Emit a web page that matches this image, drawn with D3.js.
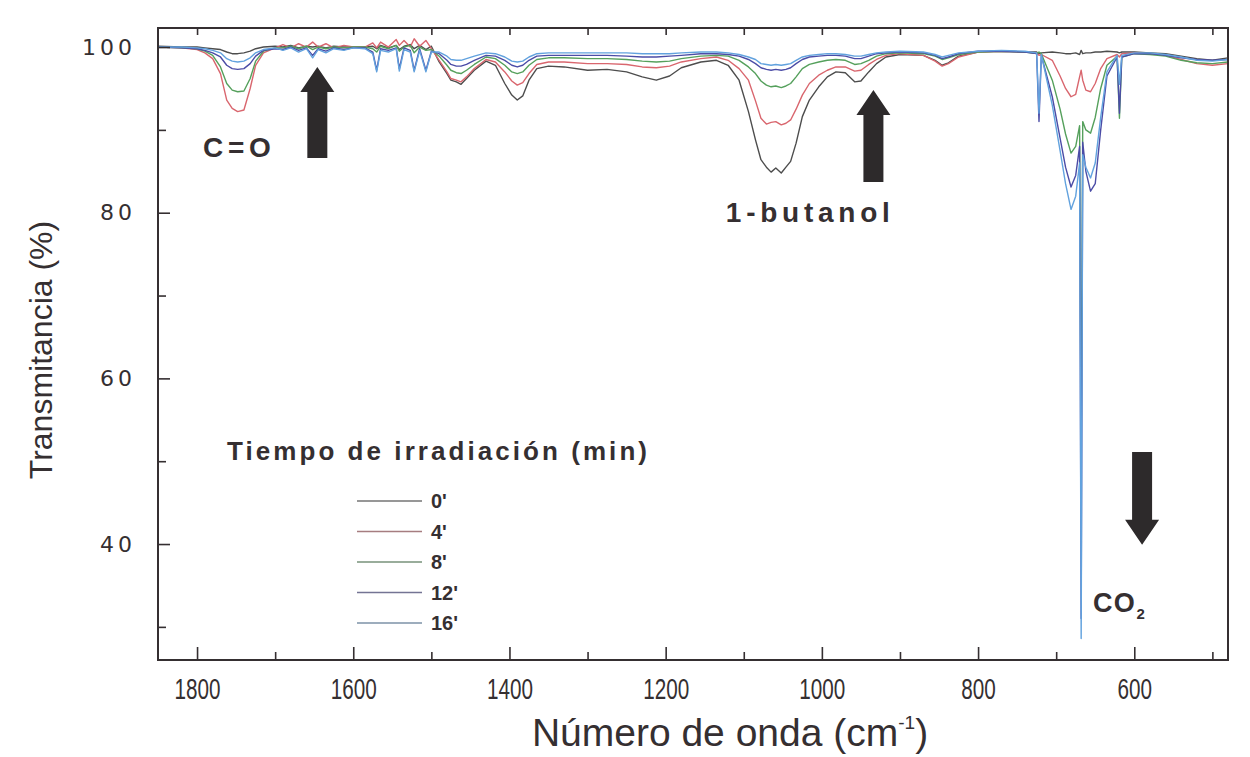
<!DOCTYPE html>
<html>
<head>
<meta charset="utf-8">
<script src="https://cdn.jsdelivr.net/npm/d3@7"></script>
<style>
  body { margin: 0; background: #fff; }
  svg { display: block; }
</style>
</head>
<body>
<svg id="chart"></svg>
<script>
// wavenumber grid (cm-1), shared by all spectra
var wavenumber = [
  1850, 1820, 1800, 1790, 1780, 1770, 1762, 1755, 1748, 1740, 1732, 1725, 1715, 1700,
  1690, 1680, 1670, 1660, 1652, 1645, 1635, 1625, 1612, 1600, 1585, 1575, 1570, 1565, 1555, 1545, 1541, 1535, 1527, 1522, 1515, 1507, 1500,
  1490, 1480, 1475, 1468, 1462, 1455, 1445, 1430, 1418, 1406, 1397, 1390, 1383, 1375, 1365, 1350, 1330, 1300, 1275, 1250, 1230, 1212, 1195, 1180, 1155, 1135,
  1120, 1106, 1094, 1085, 1078, 1071, 1065, 1059, 1052, 1046, 1040, 1033, 1025, 1016, 1004, 993, 982, 970, 958, 950, 940, 930, 918, 900,
  870, 855, 846, 838, 825, 800, 770, 740,
  725, 722, 719, 705, 695, 688, 681, 675, 670, 668, 666, 662, 656, 650, 643, 635, 622, 619, 616, 600,
  580, 560, 540, 520, 500, 480
];

// transmittance (%) for each irradiation time
var t0 = [
  100.1, 100.0, 100.0, 99.9, 99.8, 99.7, 99.4, 99.2, 99.2, 99.3, 99.5, 99.8, 100.0, 100.1,
  100.0, 100.2, 99.9, 100.1, 100.0, 100.1, 99.9, 100.1, 100.0, 100.0, 100.0, 100.1, 99.8, 100.2, 99.9, 100.2, 99.7, 100.1, 100.3, 99.8, 100.2, 99.7, 100.1,
  98.2, 96.8, 96.0, 95.8, 95.5, 96.2, 97.2, 98.3, 97.8, 95.6, 94.2, 93.6, 94.1, 96.0, 97.4, 97.7, 97.6, 97.2, 97.3, 97.0, 96.4, 96.0, 96.5, 97.5, 98.2, 98.4,
  97.8, 96.0, 92.2, 88.8, 86.4, 85.5, 84.9, 85.4, 84.8, 85.5, 86.2, 88.4, 91.6, 93.6, 95.2, 96.4, 97.0, 96.9, 95.8, 95.9, 97.0, 98.0, 98.8, 99.1,
  99.0, 98.4, 97.8, 98.1, 98.9, 99.4, 99.5, 99.4,
  99.4, 99.2, 99.3, 99.4, 99.3, 99.2, 99.2, 99.3, 99.1, 99.6, 99.2, 99.3, 99.3, 99.4, 99.4, 99.5, 99.4, 99.3, 99.4, 99.4,
  99.3, 99.2, 98.9, 98.6, 98.4, 98.7
];
var t4 = [
  100.0, 99.9, 99.7, 99.3, 98.6, 96.8, 93.6, 92.6, 92.2, 92.4, 95.0, 97.8, 99.3, 99.9,
  100.3, 99.9, 100.4, 100.0, 100.6, 100.0, 100.4, 99.9, 100.2, 100.0, 100.0, 100.5, 99.9, 100.6, 100.0, 100.9, 100.2, 100.8, 100.0, 101.0, 100.1, 100.8, 99.8,
  98.4, 97.0, 96.2, 96.0, 95.8, 96.4, 97.4, 98.5, 98.2, 97.0, 95.9, 95.4, 95.7, 96.8, 97.9, 98.2, 98.2, 98.0, 98.0, 97.9, 97.6, 97.5, 97.7, 98.2, 98.6, 98.8,
  98.4, 97.4, 96.0, 93.5, 91.4, 90.7, 90.9, 91.0, 90.6, 90.8, 91.2, 92.5, 94.2, 95.6, 96.6, 97.2, 97.6, 97.6, 97.1, 97.2, 97.9, 98.5, 99.0, 99.2,
  99.0, 98.3, 97.7, 98.0, 98.8, 99.4, 99.5, 99.4,
  99.3, 99.0, 99.1, 98.4, 96.5, 95.0, 94.0, 94.3, 96.4, 97.2, 96.0, 94.8, 94.6, 95.6, 97.4, 98.6, 99.1, 98.8, 99.2, 99.3,
  99.2, 99.0, 98.5, 98.0, 97.8, 98.0
];
var t8 = [
  100.0, 99.9, 99.8, 99.5, 99.0, 97.6, 95.6, 94.8, 94.6, 94.7, 96.2, 98.3, 99.5, 99.9,
  99.9, 100.1, 99.8, 100.1, 99.7, 100.0, 99.8, 100.0, 99.9, 100.0, 100.0, 99.8, 99.4, 100.1, 99.8, 100.2, 99.5, 100.0, 100.2, 99.3, 100.0, 99.6, 99.7,
  98.9, 97.8, 97.2, 96.9, 96.8, 97.2, 97.9, 98.8, 98.6, 97.8, 97.0, 96.8, 97.0, 97.8, 98.5, 98.7, 98.7, 98.6, 98.6, 98.5, 98.3, 98.2, 98.3, 98.6, 98.9, 99.0,
  98.9, 98.4, 97.6, 96.8, 95.9, 95.4, 95.2, 95.3, 95.1, 95.3, 95.6, 96.4, 97.4, 97.9, 98.2, 98.4, 98.5, 98.4, 97.9, 98.0, 98.4, 98.9, 99.2, 99.3,
  99.2, 98.9, 98.5, 98.7, 99.1, 99.4, 99.5, 99.4,
  99.2, 99.4, 99.2, 96.0, 92.5, 89.5, 87.2, 88.0, 90.5, 50.0, 91.0, 90.0, 89.6, 91.5, 95.0, 97.8, 98.9, 91.4, 98.8, 99.2,
  99.1, 98.9, 98.4, 98.1, 98.0, 98.2
];
var t12 = [
  100.0, 99.9, 99.8, 99.6, 99.3, 98.8, 97.8, 97.4, 97.3, 97.4, 98.0, 98.9, 99.6, 99.8,
  99.7, 100.0, 99.6, 99.9, 99.0, 99.8, 99.5, 99.9, 99.7, 99.9, 99.9, 99.4, 97.2, 99.8, 99.6, 99.9, 97.4, 99.9, 99.6, 97.2, 99.8, 97.2, 99.5,
  99.2, 98.4, 97.9, 97.7, 97.7, 97.9, 98.4, 99.0, 98.9, 98.4, 97.8, 97.6, 97.8, 98.4, 98.9, 99.0, 99.0, 99.0, 99.0, 98.9, 98.8, 98.8, 98.9, 99.0, 99.2, 99.2,
  99.1, 98.9, 98.5, 98.0, 97.5, 97.3, 97.2, 97.3, 97.2, 97.3, 97.5, 98.0, 98.5, 98.8, 98.9, 99.0, 99.0, 98.9, 98.6, 98.6, 98.9, 99.2, 99.3, 99.4,
  99.3, 99.0, 98.6, 98.8, 99.2, 99.5, 99.5, 99.4,
  99.2, 91.0, 99.0, 94.0, 89.0, 85.5, 83.1, 84.5, 88.0, 31.0, 88.5, 85.0, 82.6, 83.5, 90.0, 96.5, 98.8, 92.0, 98.8, 99.2,
  99.2, 99.0, 98.7, 98.5, 98.4, 98.5
];
var t16 = [
  100.0, 100.0, 99.9, 99.8, 99.6, 99.3, 98.6, 98.3, 98.2, 98.3, 98.7, 99.3, 99.7, 99.9,
  99.6, 99.9, 99.4, 99.8, 98.7, 99.7, 99.3, 99.8, 99.6, 99.9, 99.8, 99.2, 97.0, 99.6, 99.4, 99.8, 97.1, 99.7, 99.4, 97.0, 99.6, 97.0, 99.4,
  99.4, 98.9, 98.5, 98.4, 98.4, 98.6, 98.9, 99.3, 99.2, 98.8, 98.3, 98.2, 98.3, 98.8, 99.2, 99.3, 99.3, 99.3, 99.3, 99.3, 99.2, 99.2, 99.2, 99.3, 99.4, 99.4,
  99.3, 99.1, 98.8, 98.5, 98.0, 97.9, 97.8, 97.9, 97.8, 97.9, 98.0, 98.4, 98.8, 99.0, 99.1, 99.2, 99.2, 99.1, 98.9, 98.9, 99.1, 99.3, 99.4, 99.5,
  99.4, 99.1, 98.8, 99.0, 99.3, 99.5, 99.6, 99.5,
  99.3, 92.0, 99.1, 93.0, 87.5, 83.5, 80.4, 82.0, 86.0, 28.6, 87.0, 85.5, 84.2, 86.0, 91.5, 97.0, 99.0, 95.5, 99.0, 99.3,
  99.3, 99.1, 98.8, 98.4, 98.3, 98.5
];

var seriesNames = ["0'", "4'", "8'", "12'", "16'"];
var seriesValues = [t0, t4, t8, t12, t16];
var seriesColors = ["#4d4d4d", "#d9666e", "#55a05c", "#4b4ca6", "#62a2de"];

var xMajorTicks = [1800, 1600, 1400, 1200, 1000, 800, 600];
var xMinorTicks = [1700, 1500, 1300, 1100, 900, 700, 500];
var yMajorTicks = [40, 60, 80, 100];
var yMinorTicks = [30, 50, 70, 90];

// annotations, in data units
var bandLabels = [
  { text: "C=O", wn: 1749, t: 86.7, len: 68 },
  { text: "1-butanol", wn: 1018, t: 78.9, len: 164 }
];
var arrows = [
  { wn: 1646, tail: 86.6, tip: 97.6 },
  { wn: 934, tail: 83.7, tip: 94.8 },
  { wn: 590, tail: 51.1, tip: 39.9 }
];
var co2Label = { wn: 653, t: 31.8 };

var margin = { top: 28, right: 22, bottom: 97, left: 158 },
  width = 1250 - margin.left - margin.right,
  height = 757 - margin.top - margin.bottom;

var svg = d3.select("#chart")
  .attr("width", 1250)
  .attr("height", 757)
  .append("g")
  .attr("transform", "translate(" + margin.left + "," + margin.top + ")");

var x = d3.scaleLinear().domain([1850, 480]).range([0, width]);
var y = d3.scaleLinear().domain([26, 102.3]).range([height, 0]);

var ink = "#352f31";

svg.append("clipPath").attr("id", "plotclip")
  .append("rect").attr("width", width).attr("height", height);

// spectra
var line = d3.line()
  .x(function (d, i) { return x(wavenumber[i]); })
  .y(function (d) { return y(d); });

svg.append("g")
  .attr("clip-path", "url(#plotclip)")
  .selectAll("path")
  .data(seriesValues)
  .enter().append("path")
  .attr("fill", "none")
  .attr("stroke", function (d, i) { return seriesColors[i]; })
  .attr("stroke-width", 1.4)
  .attr("stroke-linejoin", "round")
  .attr("d", line);

// axes
function styleAxis(g) {
  g.select(".domain").remove();
  g.selectAll(".tick line").attr("stroke", ink).attr("stroke-width", 1.6);
}

svg.append("g")
  .attr("transform", "translate(0," + height + ")")
  .call(d3.axisBottom(x).tickValues(xMajorTicks).tickSize(-13).tickPadding(18).tickFormat(d3.format("d")))
  .call(styleAxis)
  .selectAll("text")
  .attr("fill", ink)
  .style("font-family", "'Liberation Sans', Arial, sans-serif")
  .style("font-size", "29px")
  .attr("textLength", function (d) { return String(d).length * 11.5; })
  .attr("lengthAdjust", "spacingAndGlyphs");

svg.append("g")
  .attr("transform", "translate(0," + height + ")")
  .call(d3.axisBottom(x).tickValues(xMinorTicks).tickSize(-8).tickFormat(""))
  .call(styleAxis);

svg.append("g")
  .call(d3.axisTop(x).tickValues(xMajorTicks.concat(xMinorTicks)).tickSize(-7).tickFormat(""))
  .call(styleAxis);

svg.append("g")
  .call(d3.axisLeft(y).tickValues(yMajorTicks).tickSize(-12).tickPadding(22))
  .call(styleAxis)
  .selectAll("text")
  .attr("fill", ink)
  .style("font-family", "'DejaVu Sans', Arial, sans-serif")
  .style("font-size", "22px")
  .style("letter-spacing", "4px");

svg.append("g")
  .call(d3.axisLeft(y).tickValues(yMinorTicks).tickSize(-8).tickFormat(""))
  .call(styleAxis);

// frame
svg.append("rect")
  .attr("width", width)
  .attr("height", height)
  .attr("fill", "none")
  .attr("stroke", ink)
  .attr("stroke-width", 2);

// axis titles
var xTitle = svg.append("text")
  .attr("x", width / 2 + 37)
  .attr("y", height + 86)
  .attr("text-anchor", "middle")
  .attr("fill", ink)
  .style("font-family", "'Liberation Sans', Arial, sans-serif")
  .style("font-size", "39px");
xTitle.append("tspan").text("Número de onda (cm");
xTitle.append("tspan").attr("dy", -17).style("font-size", "19px").text("-1");
xTitle.append("tspan").attr("dy", 17).text(")");

svg.append("text")
  .attr("transform", "translate(" + (-106) + "," + (height / 2 + 6) + ") rotate(-90)")
  .attr("text-anchor", "middle")
  .attr("fill", ink)
  .style("font-family", "'Liberation Sans', Arial, sans-serif")
  .style("font-size", "32px")
  .text("Transmitancia (%)");

// arrows
function arrowPath(d) {
  var cx = x(d.wn), yTail = y(d.tail), yTip = y(d.tip);
  var dir = yTip < yTail ? 1 : -1;
  var headLen = 25, shaft = 10, head = 17;
  var yBase = yTip + dir * headLen;
  return "M" + (cx - shaft) + "," + yTail +
    "L" + (cx - shaft) + "," + yBase +
    "L" + (cx - head) + "," + yBase +
    "L" + cx + "," + yTip +
    "L" + (cx + head) + "," + yBase +
    "L" + (cx + shaft) + "," + yBase +
    "L" + (cx + shaft) + "," + yTail + "Z";
}

svg.selectAll(".arrow")
  .data(arrows)
  .enter().append("path")
  .attr("class", "arrow")
  .attr("fill", "#2d2a2b")
  .attr("d", arrowPath);

// band labels
svg.selectAll(".band")
  .data(bandLabels)
  .enter().append("text")
  .attr("class", "band")
  .attr("x", function (d) { return x(d.wn); })
  .attr("y", function (d) { return y(d.t); })
  .attr("text-anchor", "middle")
  .attr("fill", ink)
  .style("font-family", "'Liberation Sans', Arial, sans-serif")
  .style("font-weight", "bold")
  .style("font-size", "28px")
  .attr("textLength", function (d) { return d.len; })
  .attr("lengthAdjust", "spacing")
  .text(function (d) { return d.text; });

var co2 = svg.append("text")
  .attr("x", x(co2Label.wn))
  .attr("y", y(co2Label.t))
  .attr("fill", ink)
  .style("font-family", "'Liberation Sans', Arial, sans-serif")
  .style("font-weight", "bold")
  .style("font-size", "27px")
  .style("letter-spacing", "1.5px");
co2.append("tspan").text("CO");
co2.append("tspan").attr("dy", 7).style("font-size", "15px").text("2");

// legend
var legend = svg.append("g").attr("transform", "translate(69,432)");

legend.append("text")
  .attr("fill", ink)
  .style("font-family", "'Liberation Sans', Arial, sans-serif")
  .style("font-weight", "bold")
  .style("font-size", "26px")
  .attr("textLength", 420)
  .attr("lengthAdjust", "spacing")
  .text("Tiempo de irradiación (min)");

var entry = legend.selectAll(".entry")
  .data(seriesNames)
  .enter().append("g")
  .attr("class", "entry")
  .attr("transform", function (d, i) { return "translate(130," + (41 + i * 30.5) + ")"; });

entry.append("line")
  .attr("x1", 0)
  .attr("x2", 65)
  .attr("stroke", function (d, i) { return d3.interpolateRgb(seriesColors[i], "#8a8a8a")(0.65); })
  .attr("stroke-width", 1.6);

entry.append("text")
  .attr("x", 74)
  .attr("dy", "0.36em")
  .attr("fill", ink)
  .style("font-family", "'Liberation Sans', Arial, sans-serif")
  .style("font-weight", "bold")
  .style("font-size", "20px")
  .text(function (d) { return d; });
</script>
</body>
</html>
